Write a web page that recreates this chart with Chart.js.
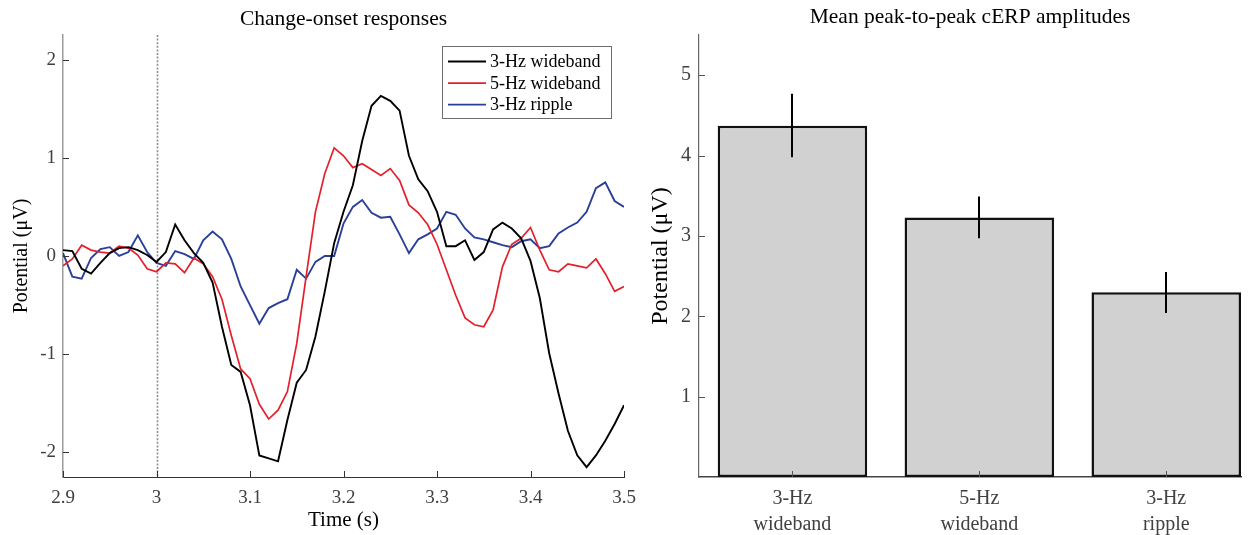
<!DOCTYPE html>
<html>
<head>
<meta charset="utf-8">
<script src="https://cdn.jsdelivr.net/npm/chart.js@4.4.1/dist/chart.umd.min.js"></script>
<style>
  html, body { margin: 0; padding: 0; background: #ffffff; }
  #wrap { position: relative; width: 1248px; height: 535px; overflow: hidden; }
  .panel { position: absolute; top: 0; height: 535px; }
  #left { left: 0; width: 640px; }
  #right { left: 640px; width: 608px; }
</style>
</head>
<body>
<div id="wrap">
  <div class="panel" id="left"><canvas id="onset" width="640" height="535"></canvas></div>
  <div class="panel" id="right"><canvas id="amps" width="608" height="535"></canvas></div>
</div>
<script>
// ---- Change-onset responses (grand-average waveforms) ----
const timeSec = [
  2.90, 2.91, 2.92, 2.93, 2.94, 2.95, 2.96, 2.97, 2.98, 2.99,
  3.00, 3.01, 3.02, 3.03, 3.04, 3.05, 3.06, 3.07, 3.08, 3.09,
  3.10, 3.11, 3.12, 3.13, 3.14, 3.15, 3.16, 3.17, 3.18, 3.19,
  3.20, 3.21, 3.22, 3.23, 3.24, 3.25, 3.26, 3.27, 3.28, 3.29,
  3.30, 3.31, 3.32, 3.33, 3.34, 3.35, 3.36, 3.37, 3.38, 3.39,
  3.40, 3.41, 3.42, 3.43, 3.44, 3.45, 3.46, 3.47, 3.48, 3.49, 3.50
];
const wideband3Hz = [
  0.06, 0.05, -0.13, -0.18, -0.07, 0.03, 0.08, 0.09, 0.06, 0.01,
  -0.06, 0.04, 0.32, 0.16, 0.03, -0.07, -0.27, -0.72, -1.11, -1.18,
  -1.52, -2.03, -2.06, -2.09, -1.67, -1.29, -1.16, -0.82, -0.36, 0.13,
  0.45, 0.72, 1.17, 1.53, 1.63, 1.58, 1.48, 1.02, 0.78, 0.66,
  0.45, 0.10, 0.10, 0.16, -0.04, 0.04, 0.27, 0.34, 0.28, 0.18,
  -0.05, -0.43, -0.99, -1.40, -1.78, -2.03, -2.15, -2.03, -1.88, -1.71, -1.52
];
const wideband5Hz = [
  -0.10, -0.03, 0.11, 0.06, 0.04, 0.03, 0.10, 0.08, 0.01, -0.13,
  -0.16, -0.07, -0.08, -0.17, -0.02, -0.08, -0.21, -0.44, -0.81, -1.15,
  -1.25, -1.51, -1.66, -1.57, -1.38, -0.89, -0.21, 0.45, 0.84, 1.10,
  1.02, 0.90, 0.94, 0.88, 0.82, 0.89, 0.77, 0.52, 0.44, 0.32,
  0.12, -0.14, -0.40, -0.63, -0.70, -0.72, -0.55, -0.11, 0.12, 0.18,
  0.29, 0.06, -0.14, -0.16, -0.08, -0.10, -0.12, -0.03, -0.18, -0.36, -0.31
];
const ripple3Hz = [
  0.03, -0.21, -0.23, -0.02, 0.07, 0.09, 0.00, 0.04, 0.21, 0.04,
  -0.07, -0.10, 0.05, 0.02, -0.03, 0.16, 0.25, 0.17, -0.03, -0.31,
  -0.50, -0.69, -0.53, -0.48, -0.44, -0.14, -0.23, -0.06, 0.00, 0.00,
  0.33, 0.50, 0.57, 0.44, 0.39, 0.40, 0.22, 0.03, 0.17, 0.22,
  0.28, 0.45, 0.42, 0.28, 0.19, 0.17, 0.14, 0.11, 0.09, 0.15,
  0.17, 0.08, 0.10, 0.23, 0.29, 0.34, 0.45, 0.69, 0.75, 0.56, 0.50
];
const seriesNames = ['3-Hz wideband', '5-Hz wideband', '3-Hz ripple'];
const timeTicks = [2.9, 3.0, 3.1, 3.2, 3.3, 3.4, 3.5];
const timeTickLabels = ['2.9', '3', '3.1', '3.2', '3.3', '3.4', '3.5'];
const potentialTicks = [-2, -1, 0, 1, 2];
const onsetTime = 3.0;

// ---- Mean peak-to-peak cERP amplitudes ----
const conditions = [['3-Hz', 'wideband'], ['5-Hz', 'wideband'], ['3-Hz', 'ripple']];
const conditionPos = [1, 2, 3];
const meanAmplitude = [4.37, 3.23, 2.30];
const errLow = [3.98, 2.97, 2.04];
const errHigh = [4.77, 3.49, 2.55];
const amplitudeTicks = [1, 2, 3, 4, 5];

const SERIF = '"Liberation Serif", "Times New Roman", serif';
const TICK_GRAY = '#404040';

// Panel title centred over the plot area (not the whole canvas)
const panelTitle = {
  id: 'panelTitle',
  afterDraw(chart, args, opts) {
    if (!opts.text) return;
    const { ctx, chartArea: a } = chart;
    ctx.save();
    ctx.font = opts.size + 'px ' + SERIF;
    ctx.fillStyle = '#000';
    ctx.textAlign = 'center';
    ctx.textBaseline = 'middle';
    ctx.fillText(opts.text, (a.left + a.right) / 2, opts.y);
    ctx.restore();
  }
};

// Short tick marks pointing into the plot area
const inwardTicks = {
  id: 'inwardTicks',
  afterDraw(chart, args, opts) {
    const { ctx, chartArea: a, scales } = chart;
    const xs = scales.x, ys = scales.y;
    ctx.save();
    ctx.lineWidth = 1;
    ctx.strokeStyle = opts.color || '#333';
    const len = opts.len || 6;
    xs.ticks.forEach(t => {
      const px = Math.round(xs.getPixelForValue(t.value)) + 0.5;
      ctx.beginPath(); ctx.moveTo(px, a.bottom); ctx.lineTo(px, a.bottom - len); ctx.stroke();
    });
    ys.ticks.forEach(t => {
      const py = Math.round(ys.getPixelForValue(t.value)) + 0.5;
      ctx.beginPath(); ctx.moveTo(a.left, py); ctx.lineTo(a.left + len, py); ctx.stroke();
    });
    ctx.restore();
  }
};

// Dotted vertical line at stimulus change onset
const onsetMarker = {
  id: 'onsetMarker',
  beforeDatasetsDraw(chart, args, opts) {
    if (opts.value === undefined) return;
    const { ctx, chartArea: a, scales: { x } } = chart;
    const px = Math.round(x.getPixelForValue(opts.value)) + 0.5;
    ctx.save();
    ctx.strokeStyle = '#8c8c8c';
    ctx.lineWidth = 1.6;
    ctx.setLineDash([2, 1.6]);
    ctx.beginPath(); ctx.moveTo(px, a.top); ctx.lineTo(px, a.bottom); ctx.stroke();
    ctx.restore();
  }
};

// Boxed legend in the upper right of the plot area
const boxLegend = {
  id: 'boxLegend',
  afterDatasetsDraw(chart, args, opts) {
    if (!opts.show) return;
    const { ctx, chartArea: a } = chart;
    const w = 169, h = 72;
    const left = a.right - 13 - w, top = a.top + 11;
    ctx.save();
    ctx.fillStyle = '#ffffff';
    ctx.fillRect(left, top, w, h);
    ctx.strokeStyle = '#6e6e6e';
    ctx.lineWidth = 1;
    ctx.strokeRect(left + 0.5, top + 0.5, w, h);
    ctx.font = '18px ' + SERIF;
    ctx.textBaseline = 'middle';
    ctx.textAlign = 'left';
    chart.data.datasets.forEach((ds, i) => {
      const cy = top + 15.5 + i * 21.6;
      ctx.strokeStyle = ds.borderColor;
      ctx.lineWidth = 1.8;
      ctx.beginPath(); ctx.moveTo(left + 6, cy); ctx.lineTo(left + 44, cy); ctx.stroke();
      ctx.fillStyle = '#000';
      ctx.fillText(ds.label, left + 48, cy + 1);
    });
    ctx.restore();
  }
};

// Error bars drawn from the low/high arrays through the chart scales
const errorBars = {
  id: 'errorBars',
  afterDatasetsDraw(chart, args, opts) {
    if (!opts.low) return;
    const { ctx, scales: { x, y } } = chart;
    ctx.save();
    ctx.strokeStyle = '#000';
    ctx.lineWidth = 2;
    opts.pos.forEach((p, i) => {
      const px = Math.round(x.getPixelForValue(p));
      ctx.beginPath();
      ctx.moveTo(px, y.getPixelForValue(opts.low[i]));
      ctx.lineTo(px, y.getPixelForValue(opts.high[i]));
      ctx.stroke();
    });
    ctx.restore();
  }
};

Chart.register(panelTitle, inwardTicks, onsetMarker, boxLegend, errorBars);

const lineColors = ['#000000', '#e3202b', '#2a3f98'];
const lineSeries = [wideband3Hz, wideband5Hz, ripple3Hz];

new Chart(document.getElementById('onset'), {
  type: 'line',
  data: {
    datasets: lineSeries.map((vals, i) => ({
      label: seriesNames[i],
      data: vals.map((v, k) => ({ x: timeSec[k], y: v })),
      borderColor: lineColors[i],
      borderWidth: i === 1 ? 1.7 : 1.9,
      pointRadius: 0,
      tension: 0,
      fill: false
    }))
  },
  options: {
    responsive: false,
    animation: false,
    layout: { padding: { left: 0, right: 16, top: 35, bottom: 0 } },
    plugins: {
      legend: { display: false },
      tooltip: { enabled: false },
      title: { display: false },
      panelTitle: { text: 'Change-onset responses', size: 21.5, y: 19 },
      inwardTicks: { color: '#333', len: 6 },
      onsetMarker: { value: onsetTime },
      boxLegend: { show: true }
    },
    scales: {
      x: {
        type: 'linear',
        min: 2.9,
        max: 3.5,
        afterBuildTicks: s => { s.ticks = timeTicks.map(v => ({ value: v })); },
        afterFit: s => { s.height = 58; s.paddingLeft = 0; s.paddingRight = 0; },
        grid: { display: false, drawTicks: false },
        border: { display: true, color: '#333', width: 1 },
        ticks: {
          padding: 10,
          color: TICK_GRAY,
          font: { family: SERIF, size: 19 },
          maxRotation: 0,
          callback: (v) => timeTickLabels[timeTicks.findIndex(t => Math.abs(t - v) < 1e-6)]
        },
        title: {
          display: true,
          text: 'Time (s)',
          color: '#000',
          font: { family: SERIF, size: 21 },
          padding: { top: 0, bottom: 2 }
        }
      },
      y: {
        type: 'linear',
        min: -2.25,
        max: 2.25,
        afterBuildTicks: s => { s.ticks = potentialTicks.map(v => ({ value: v })); },
        afterFit: s => { s.width = 63; },
        grid: { display: false, drawTicks: false },
        border: { display: true, color: '#9c9c9c', width: 1.5 },
        ticks: {
          padding: 7,
          color: TICK_GRAY,
          font: { family: SERIF, size: 19 },
          callback: v => String(v)
        },
        title: {
          display: true,
          text: 'Potential (μV)',
          color: '#000',
          font: { family: SERIF, size: 20 },
          padding: { top: 10, bottom: 0 }
        }
      }
    }
  }
});

new Chart(document.getElementById('amps'), {
  type: 'bar',
  data: {
    datasets: [{
      label: 'Mean amplitude',
      data: meanAmplitude.map((v, i) => ({ x: conditionPos[i], y: v })),
      backgroundColor: '#d0d1d0',
      borderColor: '#111111',
      borderWidth: 2.5,
      borderSkipped: false,
      categoryPercentage: 1.0,
      barPercentage: 0.8
    }]
  },
  options: {
    responsive: false,
    animation: false,
    layout: { padding: { left: 0, right: 7, top: 35, bottom: 0 } },
    plugins: {
      legend: { display: false },
      tooltip: { enabled: false },
      title: { display: false },
      panelTitle: { text: 'Mean peak-to-peak cERP amplitudes', size: 21.5, y: 17 },
      inwardTicks: { color: '#555', len: 6 },
      errorBars: { pos: conditionPos, low: errLow, high: errHigh }
    },
    scales: {
      x: {
        type: 'linear',
        min: 0.5,
        max: 3.4,
        offset: false,
        afterBuildTicks: s => { s.ticks = conditionPos.map(v => ({ value: v })); },
        afterFit: s => { s.height = 58; s.paddingLeft = 0; s.paddingRight = 0; },
        grid: { display: false, drawTicks: false, offset: false },
        border: { display: true, color: '#444', width: 1.5 },
        ticks: {
          padding: 9,
          color: TICK_GRAY,
          font: { family: SERIF, size: 20, lineHeight: 1.3 },
          maxRotation: 0,
          callback: v => conditions[conditionPos.indexOf(Math.round(v))]
        }
      },
      y: {
        type: 'linear',
        min: 0,
        max: 5.5,
        afterBuildTicks: s => { s.ticks = amplitudeTicks.map(v => ({ value: v })); },
        afterFit: s => { s.width = 59; },
        grid: { display: false, drawTicks: false },
        border: { display: true, color: '#666', width: 1.2 },
        ticks: {
          padding: 8,
          color: TICK_GRAY,
          font: { family: SERIF, size: 20 },
          callback: v => String(v)
        },
        title: {
          display: true,
          text: 'Potential (μV)',
          color: '#000',
          font: { family: SERIF, size: 24 },
          padding: { top: 6, bottom: 0 }
        }
      }
    }
  }
});
</script>
</body>
</html>
